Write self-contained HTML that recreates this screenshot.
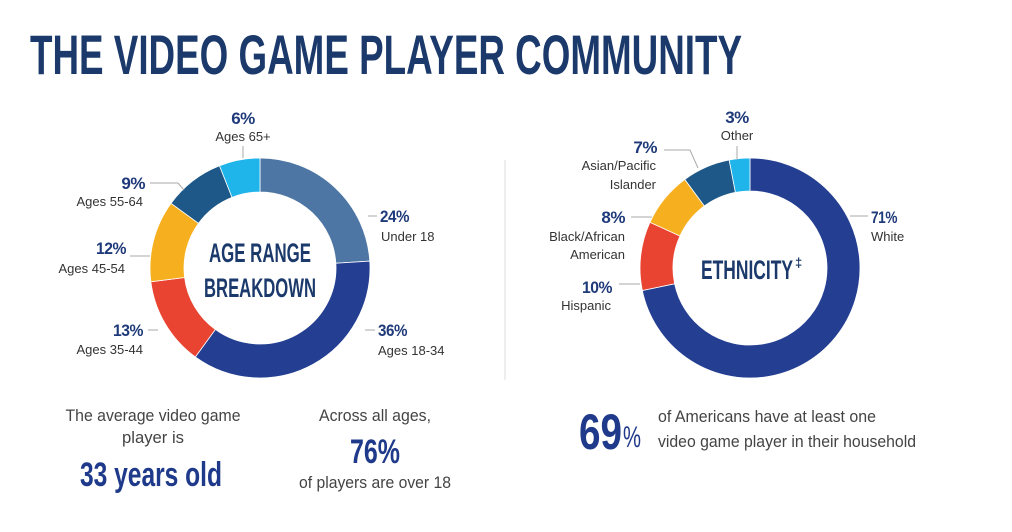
<!DOCTYPE html>
<html><head><meta charset="utf-8"><style>
html,body{margin:0;padding:0;background:#fff;}
svg{display:block;}
.t{font-family:"Liberation Sans Narrow","Liberation Sans",sans-serif;}
.lab{font-family:"Liberation Sans",sans-serif;font-size:13px;fill:#333;}
.pct{font-family:"Liberation Sans Narrow","Liberation Sans",sans-serif;font-weight:bold;font-size:17px;fill:#1f3a7a;letter-spacing:-0.5px;}
.ld{stroke:#aaa;stroke-width:1;fill:none;}
.lt{font-family:"Liberation Sans Narrow","Liberation Sans",sans-serif;font-size:17px;fill:#444;}
</style></head><body>
<svg id="s" width="1012" height="532" viewBox="0 0 1012 532" xmlns="http://www.w3.org/2000/svg">
<text class="t" x="30" y="74" font-size="56" font-weight="bold" fill="#1b3a6b" textLength="712" lengthAdjust="spacingAndGlyphs">THE VIDEO GAME PLAYER COMMUNITY</text>
<g id="arcs"></g>
<line x1="505" y1="160" x2="505" y2="380" stroke="#ddd" stroke-width="1"/>
<text class="pct" x="243" y="124" text-anchor="middle">6%</text>
<text class="lab" x="243" y="141" text-anchor="middle">Ages 65+</text>
<polyline class="ld" points="243,146 243,158"/>
<text class="pct" x="145" y="189" text-anchor="end">9%</text>
<text class="lab" x="143" y="206" text-anchor="end">Ages 55-64</text>
<polyline class="ld" points="150,183 178,183 184,190"/>
<text class="pct" x="126" y="254" text-anchor="end" textLength="30" lengthAdjust="spacingAndGlyphs">12%</text>
<text class="lab" x="125" y="273" text-anchor="end">Ages 45-54</text>
<polyline class="ld" points="130,256 150,256"/>
<text class="pct" x="143" y="336" text-anchor="end" textLength="30" lengthAdjust="spacingAndGlyphs">13%</text>
<text class="lab" x="143" y="354" text-anchor="end">Ages 35-44</text>
<polyline class="ld" points="148,330 158,330"/>
<text class="pct" x="380" y="222" textLength="29" lengthAdjust="spacingAndGlyphs">24%</text>
<text class="lab" x="381" y="241">Under 18</text>
<polyline class="ld" points="368,216 377,216"/>
<text class="pct" x="378" y="336" textLength="29" lengthAdjust="spacingAndGlyphs">36%</text>
<text class="lab" x="378" y="355">Ages 18-34</text>
<polyline class="ld" points="365,330 375,330"/>
<text class="t" x="260" y="262" font-size="27" font-weight="bold" fill="#1b3a6b" text-anchor="middle" textLength="102" lengthAdjust="spacingAndGlyphs">AGE RANGE</text>
<text class="t" x="260" y="297" font-size="27" font-weight="bold" fill="#1b3a6b" text-anchor="middle" textLength="112" lengthAdjust="spacingAndGlyphs">BREAKDOWN</text>
<text class="pct" x="737" y="123" text-anchor="middle">3%</text>
<text class="lab" x="737" y="140" text-anchor="middle">Other</text>
<polyline class="ld" points="737,146 737,160"/>
<text class="pct" x="657" y="153" text-anchor="end">7%</text>
<text class="lab" x="656" y="170" text-anchor="end">Asian/Pacific</text>
<text class="lab" x="656" y="189" text-anchor="end">Islander</text>
<polyline class="ld" points="664,150 690,150 698,168"/>
<text class="pct" x="625" y="223" text-anchor="end">8%</text>
<text class="lab" x="625" y="241" text-anchor="end">Black/African</text>
<text class="lab" x="625" y="259" text-anchor="end">American</text>
<polyline class="ld" points="631,217 652,217"/>
<text class="pct" x="612" y="293" text-anchor="end" textLength="30" lengthAdjust="spacingAndGlyphs">10%</text>
<text class="lab" x="611" y="310" text-anchor="end">Hispanic</text>
<polyline class="ld" points="619,284 640,284"/>
<text class="pct" x="871" y="223" textLength="26" lengthAdjust="spacingAndGlyphs">71%</text>
<text class="lab" x="871" y="241">White</text>
<polyline class="ld" points="850,216 868,216"/>
<text class="t" x="747" y="279" font-size="27" font-weight="bold" fill="#1b3a6b" text-anchor="middle" textLength="92" lengthAdjust="spacingAndGlyphs">ETHNICITY</text>
<text class="t" x="795" y="267" font-size="13" font-weight="bold" fill="#1b3a6b">‡</text>
<text class="lt" x="153" y="421" text-anchor="middle" textLength="175" lengthAdjust="spacingAndGlyphs">The average video game</text>
<text class="lt" x="153" y="443" text-anchor="middle" textLength="62" lengthAdjust="spacingAndGlyphs">player is</text>
<text class="t" x="151" y="486" font-size="34" font-weight="bold" fill="#1f3a8a" text-anchor="middle" textLength="142" lengthAdjust="spacingAndGlyphs">33 years old</text>
<text class="lt" x="375" y="421" text-anchor="middle" textLength="112" lengthAdjust="spacingAndGlyphs">Across all ages,</text>
<text class="t" x="375" y="463" font-size="34" font-weight="bold" fill="#1f3a8a" text-anchor="middle" textLength="50" lengthAdjust="spacingAndGlyphs">76%</text>
<text class="lt" x="375" y="488" text-anchor="middle" textLength="152" lengthAdjust="spacingAndGlyphs">of players are over 18</text>
<text class="t" x="579" y="449" font-size="50" font-weight="bold" fill="#1f3a8a" textLength="43" lengthAdjust="spacingAndGlyphs">69</text>
<text class="t" x="623" y="447" font-size="30" fill="#1f3a8a" textLength="18" lengthAdjust="spacingAndGlyphs">%</text>
<text class="lt" x="658" y="422" textLength="218" lengthAdjust="spacingAndGlyphs">of Americans have at least one</text>
<text class="lt" x="658" y="447" textLength="258" lengthAdjust="spacingAndGlyphs">video game player in their household</text>
</svg>
<script>
function donut(cx,cy,R,r,segs){
  var tot=segs.reduce(function(a,s){return a+s[0]},0),a=0,out="";
  segs.forEach(function(s){
    var a0=a/tot*2*Math.PI,a1=(a+s[0])/tot*2*Math.PI;a+=s[0];
    function p(rad,an){return [cx+rad*Math.sin(an),cy-rad*Math.cos(an)];}
    var l=(a1-a0)>Math.PI?1:0,P1=p(R,a0),P2=p(R,a1),P3=p(r,a1),P4=p(r,a0);
    out+='<path fill="'+s[1]+'" stroke="#fff" stroke-width="0.8" d="M'+P1+' A'+R+','+R+' 0 '+l+' 1 '+P2+' L'+P3+' A'+r+','+r+' 0 '+l+' 0 '+P4+' Z"/>';
  });
  return out;
}
document.getElementById('arcs').innerHTML=
 donut(260,268,110,76,[[24,'#4d76a4'],[36,'#243f92'],[13,'#e84431'],[12,'#f6b01f'],[9,'#1d5888'],[6,'#1fb4ea']])+
 donut(750,268,110,77,[[71,'#243f92'],[10,'#e84431'],[8,'#f6b01f'],[7,'#1d5888'],[3,'#1fb4ea']]);
</script>
</body></html>
